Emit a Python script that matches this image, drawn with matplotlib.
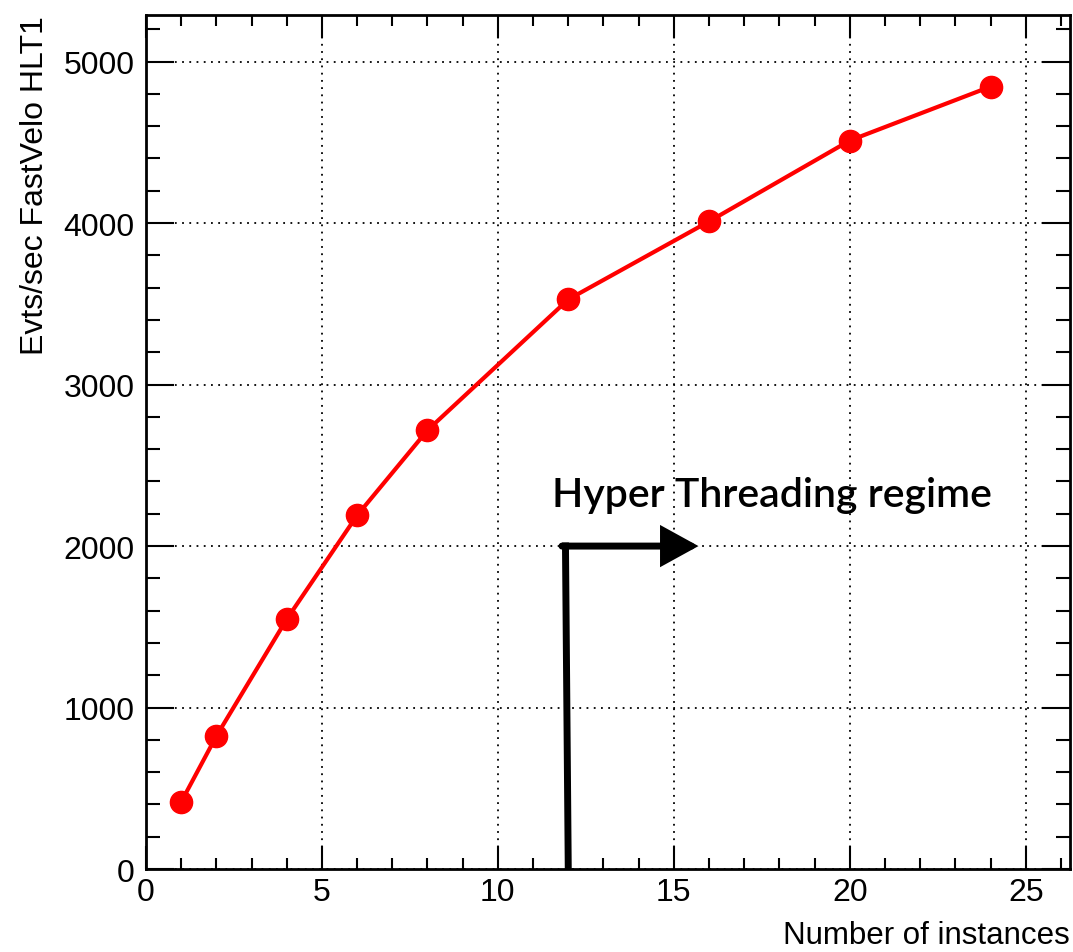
import matplotlib
matplotlib.use("Agg")
import matplotlib.pyplot as plt
from matplotlib.ticker import MultipleLocator

instances = [1, 2, 4, 6, 8, 12, 16, 20, 24]
evts_per_sec = [415, 823, 1547, 2190, 2717, 3527, 4010, 4511, 4845]
ht_start = 12
ht_level = 2000
ht_arrow_end = 15.7

plt.rcParams['font.family'] = ['Liberation Sans', 'DejaVu Sans']

fig = plt.figure(figsize=(10.73, 9.53), dpi=100)
ax = fig.add_axes([0.136, 0.087, 0.861, 0.8965])

ax.plot(instances, evts_per_sec, color='#ff0000', lw=3, marker='o', ms=16,
        markeredgecolor='#ff0000', markerfacecolor='#ff0000', zorder=5, clip_on=False)

ax.set_xlim(0, 26.25)
ax.set_ylim(0, 5290)
ax.xaxis.set_major_locator(MultipleLocator(5))
ax.xaxis.set_minor_locator(MultipleLocator(1))
ax.yaxis.set_major_locator(MultipleLocator(1000))
ax.yaxis.set_minor_locator(MultipleLocator(200))
ax.grid(True, which='major', color='black', linestyle=(0, (1, 3)), lw=1.3)

ax.tick_params(which='both', direction='in', top=True, right=True, width=1.5, labelsize=23, colors='black')
ax.tick_params(axis='x', which='major', length=16.5, pad=6)
ax.tick_params(axis='x', which='minor', length=8)
ax.tick_params(axis='y', which='major', length=20, pad=8)
ax.tick_params(axis='y', which='minor', length=10)
for s in ax.spines.values():
    s.set_linewidth(2)

ax.set_ylabel('Evts/sec FastVelo HLT1', fontsize=23, loc='top', labelpad=10)
ax.set_xlabel('Number of instances', fontsize=22.5, loc='right', labelpad=9)

# Hyper threading arrow
top_x = ht_start - 0.08
ax.plot([ht_start, top_x], [0, ht_level + 22], color='black', lw=5, solid_capstyle='butt', zorder=6)
ax.annotate('', xy=(ht_arrow_end, ht_level), xytext=(top_x - 0.1, ht_level),
            arrowprops=dict(arrowstyle='-|>,head_length=2.0,head_width=1.1', color='black', lw=5,
                            shrinkA=0, shrinkB=0, joinstyle='miter'), zorder=6)
ax.text(11.55, 2246, 'Hyper Threading regime', fontsize=29.5, family=['Lato', 'DejaVu Sans'],
        fontweight='semibold', color='black', ha='left', va='baseline')

fig.savefig('out.png', dpi=100)
